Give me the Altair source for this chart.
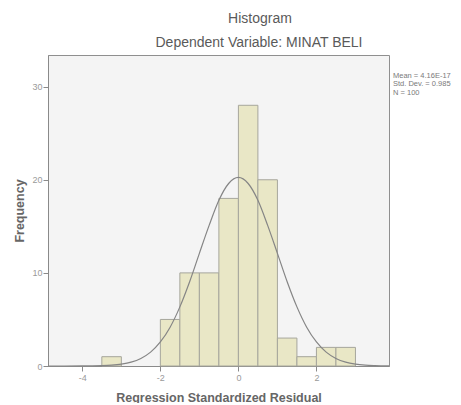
import altair as alt
import pandas as pd

# Histogram bins (regression standardized residual) and frequencies
bin_start = [-3.5, -2.0, -1.5, -1.0, -0.5, 0.0, 0.5, 1.0, 1.5, 2.0, 2.5]
bin_end = [-3.0, -1.5, -1.0, -0.5, 0.0, 0.5, 1.0, 1.5, 2.0, 2.5, 3.0]
frequency = [1, 5, 10, 10, 18, 28, 20, 3, 1, 2, 2]

# Normal curve points
curve_x = [-4.88, -4.0, -3.5, -3.25, -3.0, -2.75, -2.5, -2.25, -2.0, -1.75, -1.5, -1.25, -1.0,
           -0.75, -0.5, -0.25, 0.0, 0.25, 0.5, 0.75, 1.0, 1.25, 1.5, 1.75, 2.0, 2.25,
           2.5, 2.75, 3.0, 3.25, 3.5, 3.86]
curve_y = [0.0, 0.005, 0.04, 0.09, 0.2, 0.41, 0.81, 1.49, 2.58, 4.17, 6.35, 9.05, 12.1,
           15.1, 17.8, 19.6, 20.25, 19.6, 17.8, 15.1, 12.1, 9.05, 6.35, 4.17, 2.58, 1.49,
           0.81, 0.41, 0.2, 0.09, 0.04, 0.01]

x_ticks = [-4, -2, 0, 2]
y_ticks = [0, 10, 20, 30]

title_text = "Histogram"
subtitle_text = "Dependent Variable: MINAT BELI"
stats_lines = ["Mean = 4.16E-17", "Std. Dev. = 0.985", "N = 100"]

W, H = 341, 311
FONT = "Liberation Sans"

bars_df = pd.DataFrame({"start": bin_start, "end": bin_end, "count": frequency})
curve_df = pd.DataFrame({"x": curve_x, "y": curve_y})

xscale = alt.Scale(domain=[-4.88, 3.86], nice=False, zero=False)
yscale = alt.Scale(domain=[0, 33.4], nice=False)

xaxis = alt.Axis(values=x_ticks, title="Regression Standardized Residual", grid=False,
                 titleY=35, titleBaseline="alphabetic", labelPadding=2,
                 labelExpr="toString(datum.value)")
yaxis = alt.Axis(values=y_ticks, title="Frequency", grid=False,
                 titleX=-25, titleBaseline="alphabetic", labelPadding=1)

bars = alt.Chart(bars_df).mark_rect(
    fill="#e9e7c6", stroke="#a6a69c", strokeWidth=1
).encode(
    x=alt.X("start:Q", scale=xscale, axis=xaxis),
    x2="end:Q",
    y=alt.Y("count:Q", scale=yscale, axis=yaxis),
    y2=alt.datum(0),
)

curve = alt.Chart(curve_df).mark_line(
    color="#858585", strokeWidth=1.2, interpolate="monotone"
).encode(
    x=alt.X("x:Q", scale=xscale),
    y=alt.Y("y:Q", scale=yscale),
)

title_df = pd.DataFrame({"t": [title_text]})
sub_df = pd.DataFrame({"t": [subtitle_text]})
stats_df = pd.DataFrame({"t": ["\n".join(stats_lines)]})

title_mark = alt.Chart(title_df).mark_text(
    font=FONT, fontSize=14, color="#5a5a5a", align="center", baseline="alphabetic"
).encode(text="t:N", x=alt.value(212), y=alt.value(-32))

sub_mark = alt.Chart(sub_df).mark_text(
    font=FONT, fontSize=14, color="#5a5a5a", align="center", baseline="alphabetic"
).encode(text="t:N", x=alt.value(211), y=alt.value(-8))

stats_mark = alt.Chart(stats_df).mark_text(
    font=FONT, fontSize=7.5, color="#7a7a7a", align="left", baseline="alphabetic",
    lineBreak="\n", lineHeight=8.5
).encode(text="t:N", x=alt.value(345), y=alt.value(22.5))

chart = alt.layer(bars, curve, title_mark, sub_mark, stats_mark).properties(
    width=W, height=H,
    autosize=alt.AutoSizeParams(type="none"),
    padding={"left": 40, "top": 47, "right": 64, "bottom": 37},
    background="#ffffff",
).configure_view(
    fill="#f4f4f4", stroke="#8f8f8f", strokeWidth=1
).configure_axis(
    domainColor="#8a8a8a", tickColor="#8a8a8a", tickSize=5,
    labelColor="#9a9a9a", labelFont=FONT, labelFontSize=9,
    titleColor="#666666", titleFont=FONT, titleFontSize=12.5, titleFontWeight="bold",
)

chart.save("out.html", embed_options={"renderer": "svg", "actions": False})
